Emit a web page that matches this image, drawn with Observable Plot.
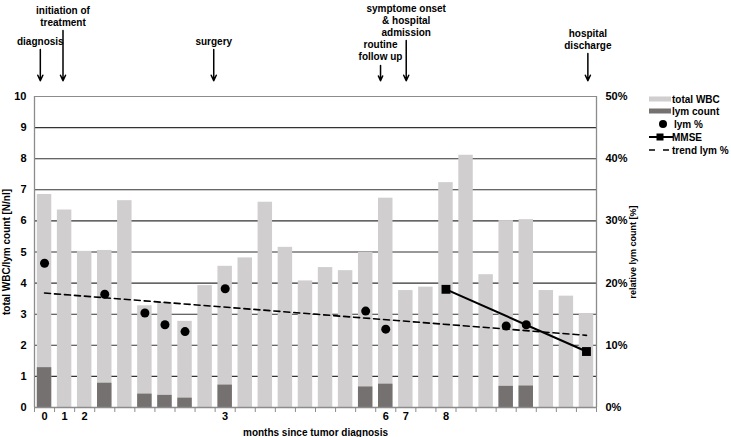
<!DOCTYPE html>
<html>
<head>
<meta charset="utf-8">
<script src="https://cdn.jsdelivr.net/npm/d3@7"></script>
<script src="https://cdn.jsdelivr.net/npm/@observablehq/plot@0.6"></script>
<style>
  body { margin: 0; background: #fff; }
  #wrap { position: relative; width: 731px; height: 437px; font-family: "Liberation Sans", Arial, sans-serif; }
  #legend { position: absolute; left: 646px; top: 92px; }
</style>
</head>
<body>
<div id="wrap"></div>
<script>
// ---- data ----
const totalWBC = [6.85, 6.35, 5.02, 5.05, 6.65, 3.27, 3.37, 2.77, 3.92, 4.54, 4.81, 6.60, 5.15, 4.07, 4.50, 4.40, 4.99, 6.73, 3.76, 3.87, 7.23, 8.11, 4.27, 6.01, 6.04, 3.76, 3.58, 3.02];
const lymIdx = [0, 3, 5, 6, 7, 9, 16, 17, 23, 24];
const lymCount = [1.28, 0.78, 0.43, 0.39, 0.30, 0.72, 0.66, 0.75, 0.68, 0.69];
const lymPct = [23.2, 18.2, 15.2, 13.3, 12.2, 19.1, 15.5, 12.6, 13.1, 13.3];
const mmseIdx = [20, 27];
const mmseVals = [19, 9];
const trendIdx = [0, 27];
const trendPct = [18.4, 11.6];
const monthIdx = [0, 1, 2, 9, 17, 18, 20];
const monthLabels = ["0", "1", "2", "3", "6", "7", "8"];
const leftTicks = [0, 1, 2, 3, 4, 5, 6, 7, 8, 9, 10];
const rightTicks = [0, 10, 20, 30, 40, 50];
const eventX = [-0.21, 0.92, 8.43, 16.74, 18.02, 27.07];
const eventTop = [11.51, 12.12, 11.51, 11.0, 11.8, 11.38];
const eventLabels = ["diagnosis", "initiation of\ntreatment", "surgery", "routine\nfollow up", "symptome onset\n& hospital\nadmission", "hospital\ndischarge"];

// ---- tables ----
const bars = totalWBC.map((v, i) => ({i, v}));
const lym = lymIdx.map((i, k) => ({i, c: lymCount[k], p: lymPct[k] / 5}));
const mmse = mmseIdx.map((i, k) => ({i, v: mmseVals[k] / 5}));
const trend = trendIdx.map((i, k) => ({i, v: trendPct[k] / 5}));
const events = eventX.map((x, k) => ({x, top: eventTop[k], label: eventLabels[k]}));
const boundaries = d3.range(-0.5, 28, 1);
const hw = 0.36;
const LIGHT = "#d0cece", DARK = "#767171", FRAME = "#8c8c8c";

const chart = Plot.plot({
  width: 731, height: 437,
  marginLeft: 34, marginRight: 135, marginTop: 96, marginBottom: 30,
  x: {domain: [-0.5, 27.5], axis: null},
  y: {domain: [0, 10], axis: null},
  style: {fontFamily: "Liberation Sans, Arial, sans-serif", fontSize: "11px", fontWeight: "bold", color: "#000", background: "#fff"},
  marks: [
    Plot.ruleY(leftTicks.filter(d => d > 0 && d < 10), {stroke: "#333", strokeWidth: 1.1}),
    Plot.ruleY([10], {stroke: FRAME, strokeWidth: 1.1}),
    Plot.ruleX([-0.5, 27.5], {y1: 0, y2: 10, stroke: FRAME, strokeWidth: 1.3}),
    Plot.rectY(bars, {x1: d => d.i - hw, x2: d => d.i + hw, y: "v", fill: LIGHT}),
    Plot.rectY(lym, {x1: d => d.i - hw, x2: d => d.i + hw, y: "c", fill: DARK}),
    Plot.ruleY([0], {stroke: FRAME, strokeWidth: 1.3}),
    Plot.axisX({ticks: boundaries, tickSize: 5, tickFormat: () => "", stroke: FRAME}),
    Plot.axisX({ticks: monthIdx, tickSize: 0, tickPadding: 5, tickFormat: d => monthLabels[monthIdx.indexOf(d)], fontWeight: "bold", label: null}),
    Plot.axisY({ticks: leftTicks, tickSize: 0, tickPadding: 8, anchor: "left", fontWeight: "bold", label: null}),
    Plot.axisY({ticks: rightTicks.map(d => d / 5), tickSize: 0, tickPadding: 9, anchor: "right", tickFormat: d => Math.round(d * 5) + "%", fontWeight: "bold", label: null}),
    Plot.text(["total WBC/lym count [N/nl]"], {frameAnchor: "left", textAnchor: "middle", rotate: -90, dx: -28, fontWeight: "bold", fontSize: 10}),
    Plot.text(["relative lym count [%]"], {frameAnchor: "right", textAnchor: "middle", rotate: -90, dx: 37, fontWeight: "bold", fontSize: 9}),
    Plot.text(["months since tumor diagnosis"], {frameAnchor: "bottom", dy: 25, lineAnchor: "middle", fontWeight: "bold", fontSize: 10}),
    Plot.line(trend, {x: "i", y: "v", stroke: "#000", strokeWidth: 1.6, strokeDasharray: "6,4"}),
    Plot.line(mmse, {x: "i", y: "v", stroke: "#000", strokeWidth: 2}),
    Plot.dot(mmse, {x: "i", y: "v", symbol: "square", r: 5, fill: "#000"}),
    Plot.dot(lym, {x: "i", y: "p", r: 4.5, fill: "#000"}),
    Plot.arrow(events, {x1: "x", x2: "x", y1: "top", y2: () => 10.51, stroke: "#000", strokeWidth: 1.5, headLength: 6, headAngle: 50}),
    Plot.text(events, {x: "x", y: "top", text: "label", lineAnchor: "bottom", dy: -5, lineHeight: 1.2, fontWeight: "bold", fontSize: 10})
  ]
});
document.getElementById("wrap").appendChild(chart);

// ---- legend ----
const legendItems = ["total WBC", "lym count", "lym %", "MMSE", "trend lym %"];
const rowY = [7, 19, 32, 45, 58];
const ns = "http://www.w3.org/2000/svg";
const lg = document.createElementNS(ns, "svg");
lg.setAttribute("id", "legend");
lg.setAttribute("width", 85);
lg.setAttribute("height", 66);
let html = "";
html += `<rect x="3" y="${rowY[0]-2.5}" width="22" height="5" fill="${LIGHT}"/>`;
html += `<rect x="3" y="${rowY[1]-2.5}" width="22" height="5" fill="${DARK}"/>`;
html += `<circle cx="17" cy="${rowY[2]}" r="4" fill="#000"/>`;
html += `<line x1="3" x2="27" y1="${rowY[3]}" y2="${rowY[3]}" stroke="#000" stroke-width="2"/><rect x="10.5" y="${rowY[3]-3.5}" width="7" height="7" fill="#000"/>`;
html += `<line x1="3" x2="25" y1="${rowY[4]}" y2="${rowY[4]}" stroke="#000" stroke-width="1.6" stroke-dasharray="6,8"/>`;
legendItems.forEach((t, k) => {
  html += `<text x="${k === 2 ? 28 : 26}" y="${rowY[k]}" dy="0.35em" font-family="Liberation Sans, Arial, sans-serif" font-size="10" font-weight="bold">${t}</text>`;
});
lg.innerHTML = html;
document.getElementById("wrap").appendChild(lg);
</script>
</body>
</html>
